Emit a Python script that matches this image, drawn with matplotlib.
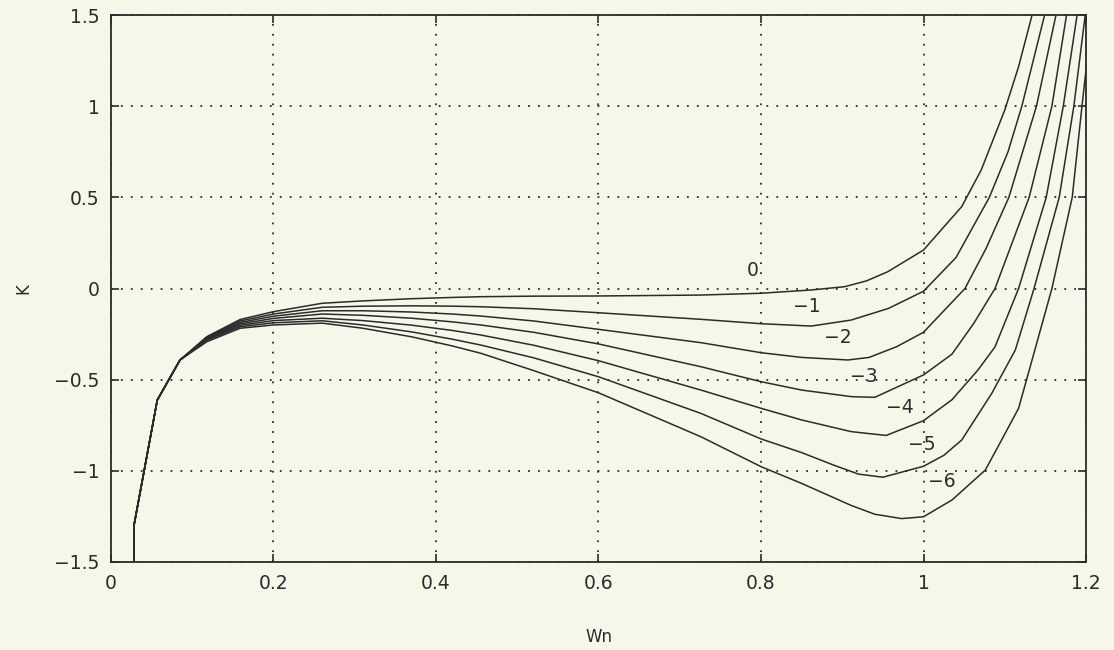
import numpy as np
import matplotlib.pyplot as plt

# shared low-frequency branch (all curves coincide here)
wn_start = [0.0283, 0.0283, 0.057, 0.085]
k_start = [-1.6, -1.30, -0.612, -0.392]

# one branch per parameter value
wn_0 = [0.118, 0.159, 0.2, 0.26, 0.31, 0.37, 0.42, 0.455, 0.52, 0.6, 0.726, 0.8, 0.862, 0.903, 0.93, 0.956, 1.0, 1.047, 1.071, 1.1, 1.117, 1.133, 1.14]
k_0 = [-0.264, -0.17, -0.127, -0.081, -0.068, -0.056, -0.049, -0.045, -0.042, -0.041, -0.036, -0.026, -0.008, 0.01, 0.042, 0.092, 0.211, 0.449, 0.65, 0.979, 1.217, 1.49, 1.62]

wn_1 = [0.118, 0.159, 0.2, 0.26, 0.31, 0.37, 0.42, 0.455, 0.52, 0.6, 0.726, 0.8, 0.862, 0.911, 0.957, 1.0, 1.04, 1.081, 1.104, 1.121, 1.149, 1.155]
k_1 = [-0.268, -0.178, -0.14, -0.103, -0.097, -0.095, -0.097, -0.1, -0.111, -0.133, -0.169, -0.193, -0.206, -0.173, -0.109, -0.015, 0.17, 0.5, 0.75, 1.0, 1.5, 1.62]

wn_2 = [0.118, 0.159, 0.2, 0.26, 0.31, 0.37, 0.42, 0.455, 0.52, 0.6, 0.726, 0.8, 0.85, 0.907, 0.933, 0.967, 1.0, 1.051, 1.077, 1.105, 1.139, 1.163, 1.17]
k_2 = [-0.272, -0.186, -0.152, -0.122, -0.122, -0.129, -0.14, -0.151, -0.178, -0.224, -0.297, -0.352, -0.378, -0.392, -0.378, -0.319, -0.24, 0.0, 0.22, 0.5, 1.0, 1.5, 1.62]

wn_3 = [0.118, 0.159, 0.2, 0.26, 0.31, 0.37, 0.42, 0.455, 0.52, 0.6, 0.726, 0.8, 0.85, 0.911, 0.94, 1.0, 1.035, 1.062, 1.088, 1.13, 1.158, 1.176, 1.182]
k_3 = [-0.276, -0.194, -0.164, -0.14, -0.147, -0.163, -0.183, -0.2, -0.24, -0.304, -0.429, -0.511, -0.557, -0.593, -0.597, -0.474, -0.36, -0.19, 0.0, 0.5, 1.0, 1.5, 1.62]

wn_4 = [0.118, 0.159, 0.2, 0.26, 0.31, 0.37, 0.42, 0.455, 0.52, 0.6, 0.726, 0.8, 0.85, 0.911, 0.954, 1.0, 1.035, 1.067, 1.088, 1.117, 1.151, 1.172, 1.189, 1.194]
k_4 = [-0.28, -0.202, -0.176, -0.163, -0.176, -0.201, -0.23, -0.255, -0.311, -0.396, -0.557, -0.657, -0.721, -0.785, -0.806, -0.725, -0.61, -0.447, -0.32, 0.0, 0.5, 1.0, 1.5, 1.62]

wn_5 = [0.118, 0.159, 0.2, 0.26, 0.31, 0.37, 0.42, 0.455, 0.52, 0.6, 0.726, 0.8, 0.85, 0.889, 0.92, 0.95, 1.0, 1.025, 1.047, 1.084, 1.113, 1.136, 1.167, 1.185, 1.199, 1.203]
k_5 = [-0.284, -0.21, -0.188, -0.177, -0.2, -0.238, -0.278, -0.31, -0.38, -0.484, -0.685, -0.825, -0.9, -0.968, -1.018, -1.035, -0.975, -0.915, -0.831, -0.575, -0.337, 0.0, 0.5, 1.0, 1.5, 1.62]

wn_6 = [0.118, 0.159, 0.2, 0.26, 0.31, 0.37, 0.42, 0.455, 0.52, 0.6, 0.726, 0.8, 0.85, 0.911, 0.94, 0.973, 1.0, 1.035, 1.076, 1.095, 1.117, 1.137, 1.158, 1.183, 1.195, 1.205]
k_6 = [-0.292, -0.218, -0.2, -0.19, -0.218, -0.265, -0.315, -0.355, -0.45, -0.572, -0.813, -0.977, -1.069, -1.19, -1.238, -1.262, -1.252, -1.16, -0.996, -0.84, -0.657, -0.337, 0.0, 0.5, 1.0, 1.4]

curve_labels = ['0', '\u22121', '\u22122', '\u22123', '\u22124', '\u22125', '\u22126']
label_wn = [0.79, 0.856, 0.895, 0.926, 0.971, 0.998, 1.022]
label_k = [0.10, -0.10, -0.268, -0.484, -0.652, -0.858, -1.06]

x_ticks = [0, 0.2, 0.4, 0.6, 0.8, 1.0, 1.2]
x_tick_labels = ['0', '0.2', '0.4', '0.6', '0.8', '1', '1.2']
y_ticks = [-1.5, -1, -0.5, 0, 0.5, 1, 1.5]
y_tick_labels = ['\u22121.5', '\u22121', '\u22120.5', '0', '0.5', '1', '1.5']

bg = '#f7f7e9'
ink = '#2b2b2b'

plt.rcParams['font.family'] = ['DejaVu Sans']
fig = plt.figure(figsize=(11.14, 6.5), dpi=100, facecolor=bg)
ax = fig.add_axes([0.0996, 0.1354, 0.8753, 0.8415], facecolor=bg)

branches = [(wn_0, k_0), (wn_1, k_1), (wn_2, k_2), (wn_3, k_3),
            (wn_4, k_4), (wn_5, k_5), (wn_6, k_6)]
for wn, k in branches:
    ax.plot(wn_start + wn, k_start + k, color=ink, lw=1.1)

for txt, x, y in zip(curve_labels, label_wn, label_k):
    ax.text(x, y, txt, fontsize=13.5, color=ink, ha='center', va='center')

ax.set_xlim(0, 1.2)
ax.set_ylim(-1.5, 1.5)
ax.set_xticks(x_ticks)
ax.set_xticklabels(x_tick_labels)
ax.set_yticks(y_ticks)
ax.set_yticklabels(y_tick_labels)
ax.tick_params(direction='in', length=6, width=1.2, color=ink,
               top=True, right=True, labelsize=13.5, labelcolor=ink)
ax.tick_params(axis='x', pad=9)
ax.tick_params(axis='y', pad=8)
ax.grid(True, color=ink, lw=1.3, linestyle=(0, (1, 4.5)))
for s in ax.spines.values():
    s.set_color(ink)
    s.set_linewidth(1.3)

ax.set_xlabel('Wn', fontsize=12, color=ink, va='top')
ax.xaxis.set_label_coords(0.5, -0.121)
ax.set_ylabel('K', fontsize=12, color=ink)
ax.yaxis.set_label_coords(-0.081, 0.5)

fig.savefig('out.png', dpi=100, facecolor=bg)
